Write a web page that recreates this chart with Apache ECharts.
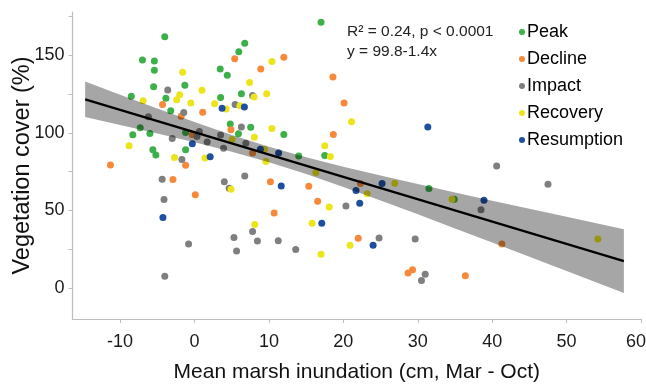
<!DOCTYPE html>
<html><head><meta charset="utf-8">
<script src="https://cdn.jsdelivr.net/npm/echarts@6/dist/echarts.min.js"></script>
<style>html,body{margin:0;padding:0;background:#fff}#c{width:646px;height:388px}</style>
</head><body><div id="c"></div>
<script>
const peak = [[-4.0,162.1],[6.75,157.8],[5.95,152.4],[-7.0,147.1],[-5.4,146.4],[-5.4,140.4],[3.45,141.2],[4.4,137.2],[-5.5,129.8],[-1.3,130.7],[-3.85,122.3],[-8.5,123.6],[6.3,125.3],[3.5,122.9],[-3.2,114.3],[-7.3,103.3],[-8.3,98.8],[-6.0,99.7],[-1.2,100.3],[4.8,105.7],[7.55,103.6],[5.9,99.4],[-5.6,89.1],[-5.2,85.8],[-1.2,89.1],[17.0,171.4],[12.0,99.0],[14.0,85.2],[17.5,85.4],[31.5,64.1],[34.9,57.2]];
const decline = [[5.4,147.9],[8.9,141.2],[12.0,148.8],[18.6,136.1],[20.1,119.3],[18.65,99.0],[-4.3,118.4],[1.1,113.4],[-1.8,110.7],[-0.3,98.8],[4.9,102.0],[7.8,87.1],[-1.2,79.2],[-11.3,79.4],[-2.9,69.9],[0.1,60.2],[10.2,68.6],[15.35,65.6],[16.55,55.9],[10.7,48.4],[22.3,67.4],[22.0,32.0],[28.7,9.6],[29.3,11.8],[41.3,28.3],[36.4,7.9]];
const impact = [[-3.6,127.7],[7.8,124.2],[5.45,118.4],[-1.45,113.2],[-6.2,110.4],[-3.0,96.4],[0.33,97.7],[0.65,101.0],[1.7,94.2],[6.3,103.9],[3.5,98.6],[3.9,90.2],[6.9,93.4],[-1.7,82.9],[-4.35,70.1],[-4.1,57.0],[4.0,68.6],[4.65,64.3],[6.75,72.3],[7.8,36.5],[8.45,30.3],[5.3,32.6],[5.65,23.8],[-0.8,28.3],[-4.0,7.6],[20.35,52.9],[11.25,30.5],[13.6,24.9],[24.8,32.2],[29.65,31.6],[31.0,8.9],[30.5,4.8],[40.6,78.7],[47.5,66.9],[38.5,50.5]];
const recovery = [[-1.6,139.1],[7.4,132.6],[1.0,127.5],[-2.0,124.6],[-2.4,121.4],[-6.9,120.8],[8.0,123.1],[9.7,125.3],[-0.5,119.3],[2.7,118.8],[4.25,115.4],[6.1,117.5],[8.05,97.3],[5.05,95.8],[-8.8,91.7],[9.4,89.5],[-2.7,84.2],[1.4,83.9],[9.6,81.6],[10.4,146.0],[21.1,107.2],[10.4,102.9],[17.5,91.7],[18.25,84.8],[16.3,74.5],[18.1,52.2],[15.8,41.7],[4.9,63.7],[8.1,41.0],[17.0,21.7],[20.9,27.5],[26.9,67.5],[23.2,60.7],[34.6,57.2],[54.2,31.6]];
const resumption = [[3.7,116.0],[6.7,116.7],[-0.3,93.0],[8.85,89.5],[2.1,84.6],[31.35,103.9],[11.3,87.1],[11.65,65.8],[17.1,41.7],[25.2,67.4],[21.7,62.8],[22.2,54.6],[24.0,27.5],[38.9,56.6],[-4.25,45.4]];

const fitX = [-14.7, 57.7];
const fitY = [121.7, 17.3];
const bandX = [-14.7,-10,-5,0,5,10,15,20,25,30,35,40,45,50,57.7];
const bandLow = [110.2,105.2,99.7,94.0,87.9,81.1,73.5,65.2,56.5,47.5,38.4,29.3,20.1,10.9,-3.3];
const bandHigh = [133.2,124.7,115.7,107.0,98.7,91.1,84.3,78.2,72.5,67.0,61.6,56.3,51.1,45.9,37.9];

const xTicks = [-10,0,10,20,30,40,50,60];
const yTicks = [0,25,50,75,100,125,150,175];
const yLabels = [0,50,100,150];

const groups = ['Peak','Decline','Impact','Recovery','Resumption'];
const groupData = [peak, decline, impact, recovery, resumption];
const colors = ['#3db049','#f68a3a','#7f7f7f','#ede51b','#1f4fa0'];

const FONT = '"Liberation Sans", Arial, sans-serif';
const chart = echarts.init(document.getElementById('c'), null, {renderer:'canvas'});

const series = groups.map((g,i)=>({
  name: g, type:'scatter', data: groupData[i], symbolSize: 7,
  itemStyle:{color: colors[i], opacity:1}, z: 2
}));
series.push({
  type:'custom', name:'band', silent:true, z:3,
  data: bandX.map((x,i)=>[x, bandLow[i], bandHigh[i]]),
  encode:{x:0, y:[1,2]},
  renderItem: function(params, api){
    if (params.dataIndex !== 0) return null;
    const pts = [];
    for (let i=0;i<bandX.length;i++) pts.push(api.coord([bandX[i], bandHigh[i]]));
    for (let i=bandX.length-1;i>=0;i--) pts.push(api.coord([bandX[i], bandLow[i]]));
    return {type:'polygon', shape:{points:pts}, style:{fill:'rgba(0,0,0,0.35)'}};
  }
});
series.push({
  type:'line', name:'fit', data: fitX.map((x,i)=>[x, fitY[i]]), symbol:'none', z:4,
  lineStyle:{color:'#000', width:2.3}, silent:true
});

const lastTick = xTicks[xTicks.length-1];

chart.setOption({
  animation:false,
  textStyle:{fontFamily:FONT},
  grid:{left:72.5, right:5, top:12, bottom:69, containLabel:false, outerBoundsMode:'none'},
  xAxis:{
    type:'value', min:-16.4, max:60,
    name:'Mean marsh inundation (cm, Mar - Oct)', nameLocation:'middle', nameGap:43, nameMoveOverlap:false,
    nameTextStyle:{fontSize:21, color:'#111', fontFamily:FONT},
    axisLine:{show:true, onZero:false, lineStyle:{color:'#bdbdbd', width:1.2}},
    axisTick:{show:true, customValues:xTicks, length:4, lineStyle:{color:'#bdbdbd'}},
    axisLabel:{customValues:xTicks, fontSize:18, color:'#1a1a1a', margin:14, fontFamily:FONT,
      formatter: v => v === lastTick ? '{r|' + v + '}' : String(v),
      rich:{r:{fontSize:18, color:'#1a1a1a', fontFamily:FONT, padding:[0,10,0,0]}}},
    splitLine:{show:false}
  },
  yAxis:{
    type:'value', min:-20, max:178,
    name:'Vegetation cover (%)', nameLocation:'middle', nameGap:38, nameMoveOverlap:false,
    nameTextStyle:{fontSize:23.5, color:'#111', fontFamily:FONT},
    axisLine:{show:true, onZero:false, lineStyle:{color:'#bdbdbd', width:1.2}},
    axisTick:{show:true, customValues:yTicks, length:4, lineStyle:{color:'#bdbdbd'}},
    axisLabel:{customValues:yLabels, fontSize:18, color:'#1a1a1a', margin:8, fontFamily:FONT},
    splitLine:{show:false}
  },
  legend:{
    data: groups.map((g,i)=>({name:g, icon:'circle', itemStyle:{color:colors[i]}})),
    orient:'vertical', left:519, top:23, itemWidth:6, itemHeight:6, itemGap:9,
    padding:0, selectedMode:false,
    textStyle:{fontSize:18, color:'#000', fontFamily:FONT, lineHeight:18, padding:[0,0,0,-3]}
  },
  graphic:[
    {type:'text', left:347, top:24, style:{text:'R² = 0.24, p < 0.0001', fill:'#222', font:'15.5px "Liberation Sans", Arial, sans-serif'}},
    {type:'text', left:347, top:44, style:{text:'y = 99.8-1.4x', fill:'#222', font:'15.5px "Liberation Sans", Arial, sans-serif'}}
  ],
  series: series
});
</script></body></html>
